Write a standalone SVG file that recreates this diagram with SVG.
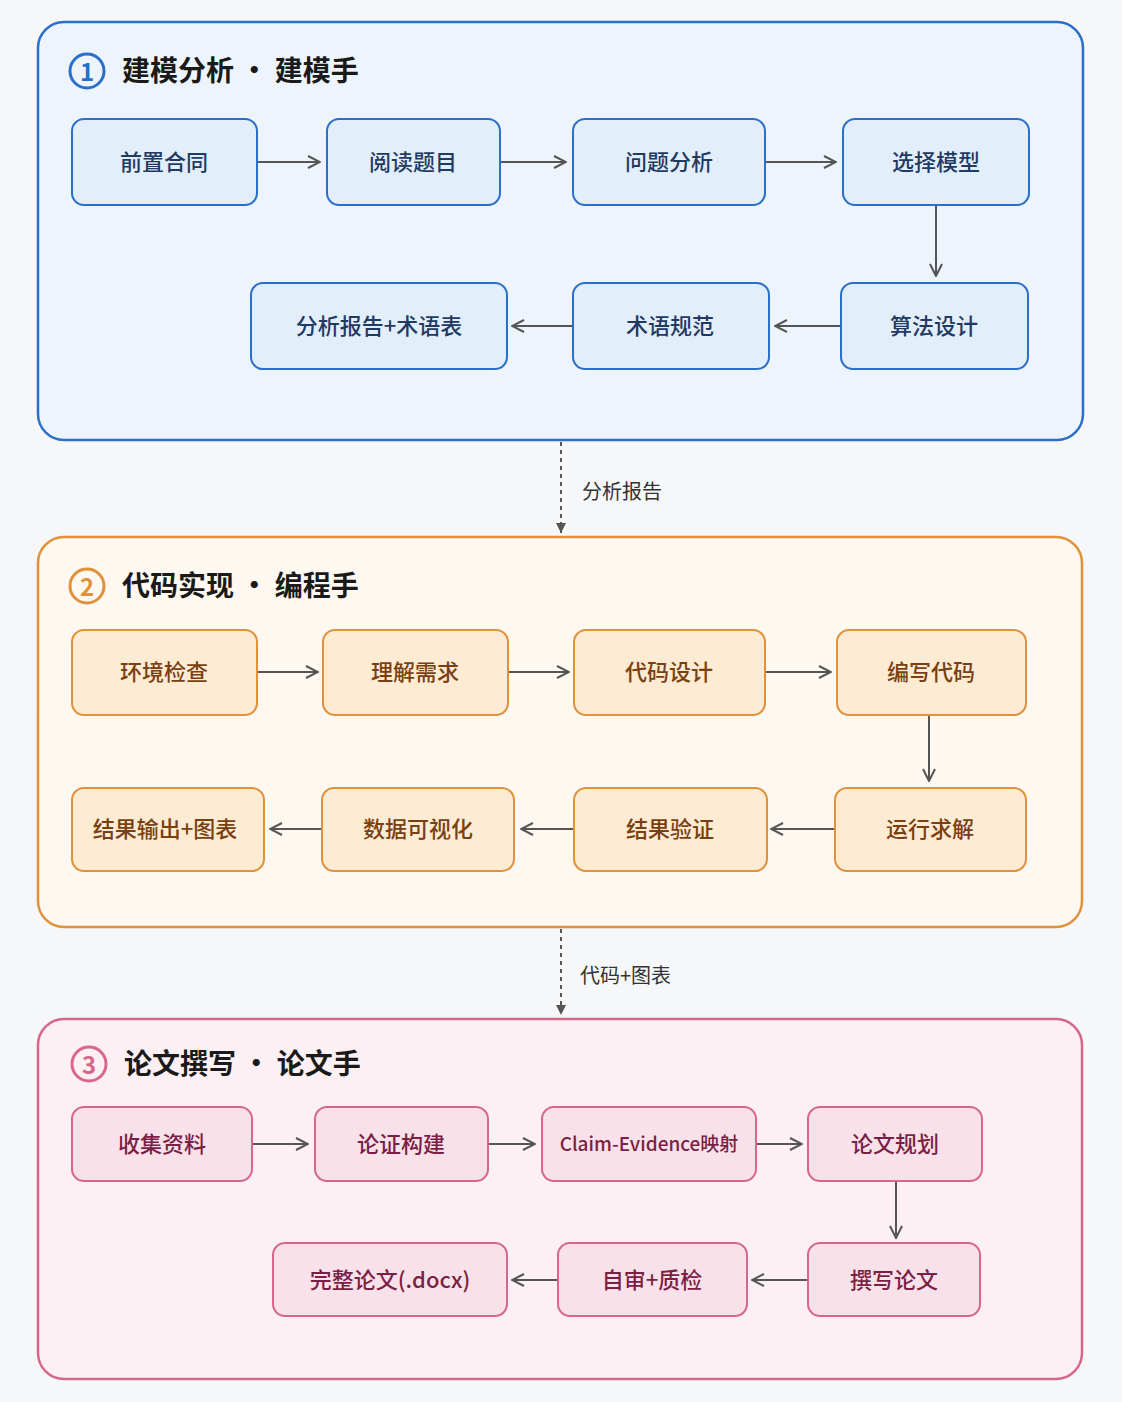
<svg xmlns="http://www.w3.org/2000/svg" width="1122" height="1402" viewBox="0 0 1122 1402">
<style>
text{font-family:"Noto Sans CJK SC","Noto Sans",sans-serif;}
.t{font-size:22px;font-weight:500;text-anchor:middle;dominant-baseline:central}
.h{font-size:28px;font-weight:700;fill:#1a1a1a}
.num{font-size:24px;font-weight:700;text-anchor:middle;dominant-baseline:central}
.b rect{fill:#e3eefb;stroke:#2a6fc9;stroke-width:2}.b text{fill:#1f3b63}
.o rect{fill:#fdebd3;stroke:#e0913a;stroke-width:2}.o text{fill:#7a4010}
.p rect{fill:#f9e1ea;stroke:#d8668a;stroke-width:2}.p text{fill:#7a1f45}
.c line{stroke:#555;stroke-width:2;marker-end:url(#a)}
.d{stroke:#555;stroke-width:2;stroke-dasharray:4 4}
.lb{font-size:20px;fill:#333}
</style>
<defs>
<marker id="a" viewBox="0 0 14 14" refX="13" refY="7" markerWidth="14" markerHeight="14" markerUnits="userSpaceOnUse" orient="auto"><path d="M1,1 L13,7 L1,13" fill="none" stroke="#555" stroke-width="2"/></marker>
<marker id="f" viewBox="0 0 12 12" refX="11" refY="6" markerWidth="12" markerHeight="12" markerUnits="userSpaceOnUse" orient="auto"><path d="M1,1 L11,6 L1,11 Z" fill="#555"/></marker>
</defs>
<rect width="1122" height="1402" fill="#f6f7f9"/>
<g id="panel1">
<rect x="38" y="22" width="1045" height="418" rx="26" fill="#eef4fc" stroke="#2a6fc9" stroke-width="2.5"/>
<circle cx="87" cy="71" r="17" fill="none" stroke="#2a6fc9" stroke-width="3"/><text x="87" y="70" class="num" fill="#2a6fc9">1</text>
<text x="122" y="81" class="h">建模分析 · 建模手</text>
</g>
<g id="panel2">
<rect x="38" y="537" width="1044" height="390" rx="26" fill="#fef8f0" stroke="#e0913a" stroke-width="2.5"/>
<circle cx="87" cy="586" r="17" fill="none" stroke="#e0913a" stroke-width="3"/><text x="87" y="585" class="num" fill="#e0913a">2</text>
<text x="122" y="596" class="h">代码实现 · 编程手</text>
</g>
<g id="panel3">
<rect x="38" y="1019" width="1044" height="360" rx="26" fill="#fcf0f4" stroke="#d8668a" stroke-width="2.5"/>
<circle cx="89" cy="1064" r="17" fill="none" stroke="#d8668a" stroke-width="3"/><text x="89" y="1063" class="num" fill="#d8668a">3</text>
<text x="124" y="1074" class="h">论文撰写 · 论文手</text>
</g>
<g class="b">
<g id="n1"><rect x="72" y="119" width="185" height="86" rx="12"/><text x="164" y="160" class="t">前置合同</text></g>
<g id="n2"><rect x="327" y="119" width="173" height="86" rx="12"/><text x="413" y="160" class="t">阅读题目</text></g>
<g id="n3"><rect x="573" y="119" width="192" height="86" rx="12"/><text x="669" y="160" class="t">问题分析</text></g>
<g id="n4"><rect x="843" y="119" width="186" height="86" rx="12"/><text x="936" y="160" class="t">选择模型</text></g>
<g id="n5"><rect x="841" y="283" width="187" height="86" rx="12"/><text x="934" y="324" class="t">算法设计</text></g>
<g id="n6"><rect x="573" y="283" width="196" height="86" rx="12"/><text x="670" y="324" class="t">术语规范</text></g>
<g id="n7"><rect x="251" y="283" width="256" height="86" rx="12"/><text x="379" y="324" class="t">分析报告+术语表</text></g>
</g>
<g class="o">
<g id="m1"><rect x="72" y="630" width="185" height="85" rx="12"/><text x="164" y="670" class="t">环境检查</text></g>
<g id="m2"><rect x="323" y="630" width="185" height="85" rx="12"/><text x="415" y="670" class="t">理解需求</text></g>
<g id="m3"><rect x="574" y="630" width="191" height="85" rx="12"/><text x="669" y="670" class="t">代码设计</text></g>
<g id="m4"><rect x="837" y="630" width="189" height="85" rx="12"/><text x="931" y="670" class="t">编写代码</text></g>
<g id="m5"><rect x="835" y="788" width="191" height="83" rx="12"/><text x="930" y="827" class="t">运行求解</text></g>
<g id="m6"><rect x="574" y="788" width="193" height="83" rx="12"/><text x="670" y="827" class="t">结果验证</text></g>
<g id="m7"><rect x="322" y="788" width="192" height="83" rx="12"/><text x="418" y="827" class="t">数据可视化</text></g>
<g id="m8"><rect x="72" y="788" width="192" height="83" rx="12"/><text x="165" y="827" class="t">结果输出+图表</text></g>
</g>
<g class="p">
<g id="p1"><rect x="72" y="1107" width="180" height="74" rx="12"/><text x="162" y="1142" class="t">收集资料</text></g>
<g id="p2"><rect x="315" y="1107" width="173" height="74" rx="12"/><text x="401" y="1142" class="t">论证构建</text></g>
<g id="p3"><rect x="542" y="1107" width="214" height="74" rx="12"/><text x="649" y="1142" class="t" style="font-size:19px">Claim-Evidence映射</text></g>
<g id="p4"><rect x="808" y="1107" width="174" height="74" rx="12"/><text x="895" y="1142" class="t">论文规划</text></g>
<g id="p5"><rect x="808" y="1243" width="172" height="73" rx="12"/><text x="894" y="1278" class="t">撰写论文</text></g>
<g id="p6"><rect x="558" y="1243" width="189" height="73" rx="12"/><text x="652" y="1278" class="t">自审+质检</text></g>
<g id="p7"><rect x="273" y="1243" width="234" height="73" rx="12"/><text x="390" y="1278" class="t">完整论文(.docx)</text></g>
</g>
<g id="connectors" class="c">
<line x1="258" y1="162" x2="320" y2="162"/><line x1="501" y1="162" x2="566" y2="162"/><line x1="766" y1="162" x2="836" y2="162"/>
<line x1="936" y1="206" x2="936" y2="276"/><line x1="840" y1="326" x2="775" y2="326"/><line x1="572" y1="326" x2="512" y2="326"/>
<line x1="258" y1="672" x2="318" y2="672"/><line x1="509" y1="672" x2="569" y2="672"/><line x1="766" y1="672" x2="831" y2="672"/>
<line x1="929" y1="716" x2="929" y2="781"/><line x1="834" y1="829" x2="771" y2="829"/><line x1="573" y1="829" x2="521" y2="829"/><line x1="321" y1="829" x2="270" y2="829"/>
<line x1="253" y1="1144" x2="308" y2="1144"/><line x1="489" y1="1144" x2="535" y2="1144"/><line x1="757" y1="1144" x2="802" y2="1144"/>
<line x1="896" y1="1182" x2="896" y2="1238"/><line x1="807" y1="1280" x2="752" y2="1280"/><line x1="557" y1="1280" x2="512" y2="1280"/>
<line x1="561" y1="442" x2="561" y2="533" class="d" style="marker-end:url(#f)"/>
<line x1="561" y1="929" x2="561" y2="1015" class="d" style="marker-end:url(#f)"/>
</g>
<text x="582" y="499" class="lb">分析报告</text>
<text x="580" y="983" class="lb">代码+图表</text>
</svg>
